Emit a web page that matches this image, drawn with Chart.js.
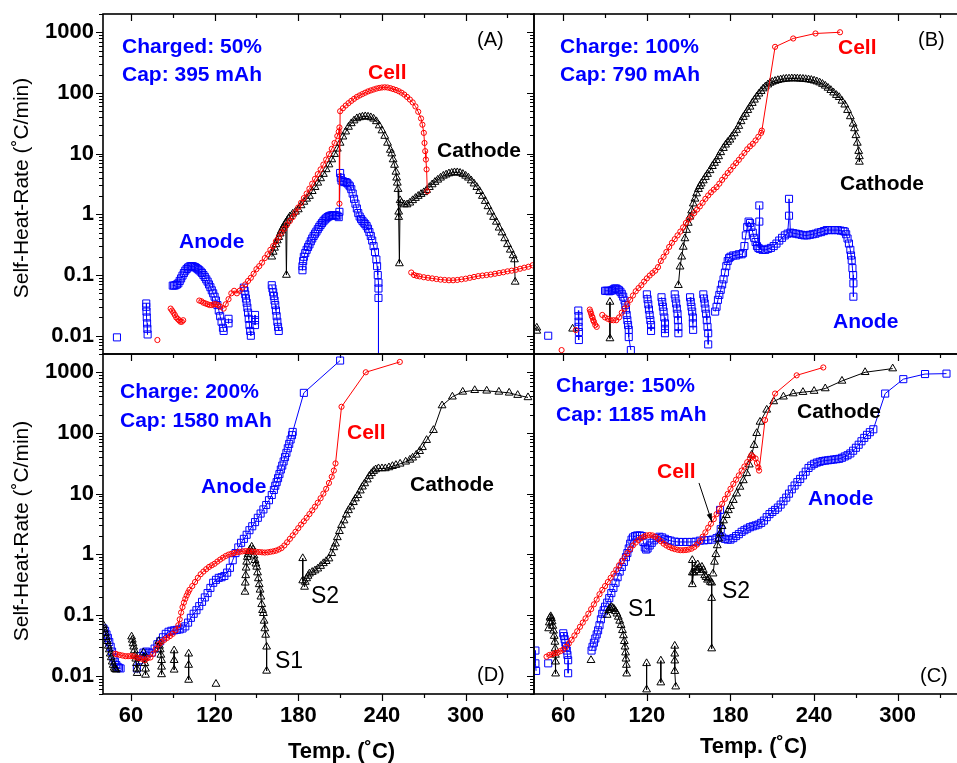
<!DOCTYPE html>
<html>
<head>
<meta charset="utf-8">
<script src="https://cdn.jsdelivr.net/npm/chart.js@4.4.0/dist/chart.umd.min.js"></script>
<style>
  html, body { margin: 0; padding: 0; background: #fff; }
  body { position: relative; width: 957px; height: 763px; overflow: hidden; font-family: "Liberation Sans", Arial, sans-serif; }
  canvas { position: absolute; left: 0; top: 0; }
  .t { position: absolute; white-space: nowrap; font-weight: bold; font-size: 21px; line-height: 21px; }
  .blue { color: #0000ff; }
  .red { color: #ff0000; }
  .blk { color: #000; }
  .plain { font-weight: normal; font-size: 20px; }
  .s { font-weight: normal; font-size: 23px; line-height: 23px; }
  .xt { font-size: 22px; line-height: 22px; }
  .yt { position: absolute; white-space: nowrap; font-size: 21px; transform: translate(-50%, -50%) rotate(-90deg); }
</style>
</head>
<body>
<canvas id="chartA" width="1000" height="763"></canvas>
<canvas id="chartB" width="1000" height="763"></canvas>
<canvas id="chartD" width="1000" height="763"></canvas>
<canvas id="chartC" width="1000" height="763"></canvas>

<div class="t blue" style="left:122px;top:35px">Charged: 50%</div>
<div class="t blue" style="left:122px;top:63px">Cap: 395 mAh</div>
<div class="t red" style="left:368px;top:61px">Cell</div>
<div class="t blk" style="left:437px;top:139px">Cathode</div>
<div class="t blue" style="left:179px;top:230px">Anode</div>
<div class="t plain" style="left:477px;top:29px">(A)</div>

<div class="t blue" style="left:560px;top:35px">Charge: 100%</div>
<div class="t blue" style="left:560px;top:63px">Cap: 790 mAh</div>
<div class="t red" style="left:838px;top:36px">Cell</div>
<div class="t blk" style="left:840px;top:172px">Cathode</div>
<div class="t blue" style="left:833px;top:310px">Anode</div>
<div class="t plain" style="left:918px;top:29px">(B)</div>

<div class="t blue" style="left:120px;top:380px">Charge: 200%</div>
<div class="t blue" style="left:120px;top:409px">Cap: 1580 mAh</div>
<div class="t blue" style="left:201px;top:475px">Anode</div>
<div class="t red" style="left:347px;top:421px">Cell</div>
<div class="t blk" style="left:410px;top:473px">Cathode</div>
<div class="t s" style="left:275px;top:649px">S1</div>
<div class="t s" style="left:311px;top:584px">S2</div>
<div class="t plain" style="left:477px;top:664px">(D)</div>

<div class="t blue" style="left:556px;top:374px">Charge: 150%</div>
<div class="t blue" style="left:556px;top:403px">Cap: 1185 mAh</div>
<div class="t blk" style="left:797px;top:400px">Cathode</div>
<div class="t red" style="left:657px;top:460px">Cell</div>
<div class="t blue" style="left:808px;top:487px">Anode</div>
<div class="t s" style="left:628px;top:597px">S1</div>
<div class="t s" style="left:722px;top:579px">S2</div>
<div class="t plain" style="left:920px;top:665px">(C)</div>

<div class="t xt" style="left:288px;top:740px">Temp. (˚C)</div>
<div class="t xt" style="left:700px;top:735px">Temp. (˚C)</div>
<div class="yt" style="left:21px;top:188px">Self-Heat-Rate (˚C/min)</div>
<div class="yt" style="left:21px;top:531px">Self-Heat-Rate (˚C/min)</div>

<script>
// axes
const xMajor = [60, 120, 180, 240, 300];
const xMinor = [90, 150, 210, 270, 330];
const yMajor = [0.01, 0.1, 1, 10, 100, 1000];

// (A) Charged 50%  - [temp, rate], null = break
const aCell = [[79, 0.0085], null,
  [88.5, 0.028], [89.5, 0.026], [90.5, 0.024], [91.5, 0.022], [92.5, 0.02], [93.5, 0.019], [94.5, 0.018], [95.5, 0.017], [96.5, 0.017], [97.5, 0.018], null,
  [109, 0.038], [110.5, 0.037], [112, 0.035], [113.5, 0.034], [115, 0.033], [116.5, 0.032], [118, 0.032], [119.5, 0.033], [121, 0.033], [122.5, 0.032], [124, 0.03], null,
  [126.5, 0.028], [128, 0.033], [130, 0.04], [132, 0.05], [134, 0.055], [136, 0.05], [138, 0.055], [140, 0.062], [142, 0.07], [144, 0.08], [146, 0.09], [148, 0.105], [150, 0.125],
  [152, 0.14], [154, 0.16], [156, 0.19], [158, 0.22], [160, 0.26], [162, 0.3], [164, 0.36], [166, 0.42], [168, 0.5], [170, 0.58], [172, 0.68], [174, 0.78], [176, 0.9], [178, 1.08],
  [180, 1.3], [182, 1.55], [184, 1.85], [186, 2.2], [188, 2.65], [190, 3.2], [192, 3.85], [194, 4.6], [196, 5.5], [198, 6.6], [200, 8], [202, 9.8], [204, 12], [206, 15], [208, 19.5],
  [209, 23], [209.5, 27], [209.5, 1.5], [210, 50], [212, 56], [214, 62], [216, 68], [218, 74], [220, 80], [222, 86], [224, 91], [226, 96], [228, 101], [230, 106], [232, 110],
  [234, 114], [236, 118], [238, 121], [240, 123], [242, 124], [244, 123], [246, 120], [248, 116], [250, 112], [252, 107], [254, 101], [256, 94], [258, 86], [260, 78], [262, 70],
  [264, 60], [266, 49], [268, 38], [269, 30], [270, 22], [270.5, 15], [271, 11], [271.5, 8], [272, 5.5], [272.5, 2.4], null,
  [261, 0.11], [263, 0.1], [265, 0.097], [267, 0.095], [270, 0.092], [273, 0.09], [276, 0.088], [279, 0.086], [282, 0.084], [285, 0.083], [288, 0.082], [291, 0.082], [294, 0.083],
  [297, 0.085], [300, 0.087], [303, 0.09], [306, 0.093], [309, 0.096], [312, 0.098], [315, 0.1], [318, 0.102], [321, 0.105], [324, 0.108], [327, 0.111], [330, 0.115], [333, 0.118],
  [336, 0.122], [339, 0.127], [342, 0.132], [345, 0.137], [348, 0.145]];

const aCathode = [[161, 0.2], [162, 0.24], [163, 0.28], [164, 0.32], [165, 0.37], [166, 0.42], [167, 0.48], [168, 0.54], [169, 0.6], [170, 0.66], [171, 0.72], [171.5, 0.1],
  [172, 0.78], [173, 0.85], [174, 0.92], [176, 1.02], [178, 1.1], [180, 1.2], [182, 1.4], [184, 1.6], [186, 1.8], [188, 2.0], [190, 2.4], [192, 2.8], [194, 3.3], [196, 3.9],
  [198, 4.6], [200, 5.5], [202, 6.6], [204, 8], [206, 9.8], [208, 12], [210, 15], [212, 19], [214, 23], [216, 27.5], [218, 31.5], [220, 35], [222, 38], [224, 39.5], [226, 40.5],
  [228, 41], [230, 40.5], [232, 39.5], [234, 37.5], [236, 34], [238, 29], [240, 24], [242, 19.5], [244, 15], [246, 11.5], [247, 10], [248, 8], [249, 6.5], [250, 5], [250.5, 4],
  [251, 3.3], [251.5, 2.6], [252, 1.1], [252, 0.9], [252.5, 0.155], [253, 1.7], [254, 1.55], [256, 1.45], [258, 1.45], [260, 1.55], [262, 1.7], [264, 1.85], [266, 2.0], [268, 2.15],
  [270, 2.3], [272, 2.5], [274, 2.8], [276, 3.1], [278, 3.4], [280, 3.7], [282, 4.0], [284, 4.3], [286, 4.5], [288, 4.7], [290, 4.8], [292, 4.9], [294, 4.9], [296, 4.8], [298, 4.6],
  [300, 4.3], [302, 4.0], [304, 3.6], [306, 3.2], [308, 2.8], [310, 2.4], [312, 2.0], [314, 1.65], [316, 1.35], [318, 1.1], [320, 0.9], [322, 0.75], [324, 0.6], [326, 0.5],
  [328, 0.4], [330, 0.32], [332, 0.26], [334, 0.21], [335, 0.18], [335.5, 0.077]];

const aAnode = [[50, 0.0094], null,
  [71, 0.034], [71, 0.03], [71.2, 0.025], [71.4, 0.02], [71.6, 0.016], [71.8, 0.013], [72, 0.0105], null,
  [90, 0.067], [91, 0.067], [92, 0.068], [93, 0.07], [94, 0.073], [95, 0.08], [96, 0.088], [97, 0.098], [98, 0.108], [99, 0.118], [100, 0.126], [101, 0.133], [102, 0.138],
  [103, 0.14], [104, 0.14], [105, 0.138], [106, 0.135], [107, 0.13], [108, 0.125], [109, 0.12], [110, 0.114], [111, 0.108], [112, 0.1], [113, 0.093], [114, 0.085], [115, 0.078],
  [116, 0.07], [117, 0.063], [118, 0.056], [119, 0.05], [120, 0.044], [121, 0.038], [122, 0.032], [123, 0.026], [124, 0.021], [125, 0.017], [126, 0.0135], [126.5, 0.012], null,
  [130, 0.019], [130, 0.016], null,
  [141, 0.062], [141.5, 0.055], [142, 0.048], [142.5, 0.041], [143, 0.035], [143.5, 0.029], [144, 0.024], [144.5, 0.019], [145, 0.015], [145.5, 0.012], [146, 0.01], null,
  [149, 0.022], [149, 0.018], [149, 0.015], null,
  [161, 0.068], [161.5, 0.06], [162, 0.052], [162.5, 0.045], [163, 0.038], [163.5, 0.032], [164, 0.026], [164.5, 0.021], [165, 0.017], [165.5, 0.014], [166, 0.012], null,
  [183, 0.14], [183, 0.12], [183.5, 0.17], [184, 0.2], [185, 0.23], [186, 0.26], [187, 0.29], [188, 0.32], [189, 0.36], [190, 0.4], [191, 0.44], [192, 0.48], [193, 0.52],
  [194, 0.57], [195, 0.62], [196, 0.67], [197, 0.72], [198, 0.77], [199, 0.82], [200, 0.86], [201, 0.9], [202, 0.93], [203, 0.95], [204, 0.96], [205, 0.97], [206, 0.97],
  [207, 0.96], [208, 0.95], [209, 0.9], [209.5, 1.1], [210, 4.8], [210.5, 4], [211, 3.6], [212, 3.5], [213, 3.4], [214, 3.4], [215, 3.3], [216, 3.1], [217, 2.9], [218, 2.6],
  [219, 2.2], [220, 1.8], [221, 1.5], [222, 1.25], [223, 1.05], [224, 0.92], [225, 0.84], [226, 0.78], [227, 0.73], [228, 0.69], [229, 0.64], [230, 0.58], [231, 0.51],
  [232, 0.44], [233, 0.37], [234, 0.3], [235, 0.24], [236, 0.18], [236.5, 0.14], [237, 0.1], [237.5, 0.075], [237.5, 0.06], [237.5, 0.042], [237.5, 0.001]];

// (B) Charge 100%
const bCell = [[58.8, 0.0058], null, [69, 0.0124], null,
  [79, 0.027], [79.5, 0.025], [80, 0.023], [80.5, 0.021], [81, 0.02], [81.5, 0.018], [82, 0.017], [83, 0.015], [84, 0.014], null,
  [88, 0.022], [90, 0.02], [92, 0.019], [94, 0.018], [96, 0.018], [98, 0.018], [100, 0.02], [102, 0.024], [104, 0.028], [106, 0.033], [108, 0.039], [110, 0.046], [112, 0.054],
  [114, 0.061], [116, 0.068], [118, 0.078], [120, 0.088], [122, 0.098], [124, 0.108], [126, 0.118], [128, 0.135], [130, 0.17], [132, 0.2], [134, 0.24], [136, 0.29], [138, 0.34],
  [140, 0.39], [142, 0.45], [144, 0.52], [146, 0.61], [148, 0.72], [150, 0.82], [152, 0.92], [154, 1.05], [156, 1.2], [158, 1.35], [160, 1.55], [162, 1.8], [164, 2.05],
  [166, 2.3], [168, 2.55], [170, 2.8], [172, 3.2], [174, 3.7], [176, 4.2], [178, 4.8], [180, 5.4], [182, 6.2], [184, 7.0], [186, 7.9], [188, 9], [190, 10.3], [192, 11.8],
  [194, 13.2], [196, 14.5], [198, 16.5], [200, 19], [202, 22], [202.5, 24], [212, 575], [225, 790], [241, 955], [258.6, 1000]];

const bCathode = [[41, 0.012], [41, 0.0135], null, [66.7, 0.013], null, [93.5, 0.036], [93.5, 0.009], null,
  [142.6, 0.068], [143.8, 0.137], [145, 0.2], [146.1, 0.29], [147.3, 0.4], [148.5, 0.55], [149.7, 0.72], [150.9, 0.91], [152.1, 1.15], [153.3, 1.5], [154.5, 1.8], [155.7, 2.2],
  [157, 2.6], [158, 2.9], [159, 3.2], [160.5, 3.6], [162, 4.1], [163.5, 4.6], [165.3, 5.3], [167, 6.2], [168.5, 7], [170.1, 7.8], [171.5, 9], [173, 10.5], [174.9, 12.3],
  [176.5, 14], [178, 15.5], [179.6, 16.9], [181, 19], [182.7, 21.5], [184.4, 24.5], [186, 28.5], [187.6, 34], [189.2, 40], [190.8, 45], [192.4, 52], [194, 59], [195.6, 68],
  [197.2, 77], [198.8, 87], [200.4, 97], [202, 107], [203.5, 118], [205, 127], [206.8, 137], [208.4, 146], [210, 152], [212, 157], [214, 162], [216, 166], [218, 169],
  [220, 171], [222, 172], [224, 173], [226, 173], [228, 172], [230, 171], [232, 170], [234, 168], [236, 166], [238, 163], [240, 159], [242, 154], [244, 148], [246, 140],
  [248, 131], [250, 121], [252, 111], [254, 101], [256, 92], [258, 85], [260, 74], [262, 64], [264, 52], [266, 41], [268, 31], [269, 26], [270, 20], [271, 15], [272, 11],
  [272.5, 9], [272.5, 7.3]];

const bAnode = [[49.2, 0.01], null,
  [70.8, 0.026], [71, 0.021], [71, 0.017], [71, 0.014], [71.2, 0.0115], [71.2, 0.0085], null,
  [90, 0.055], [91, 0.055], [92, 0.055], [93, 0.054], [94, 0.055], [95, 0.056], [96, 0.058], [97, 0.06], [98, 0.06], [99, 0.058], [100, 0.056], [101, 0.053], [102, 0.049],
  [103, 0.044], [104, 0.038], [104.5, 0.032], [105, 0.027], [105.5, 0.022], [106, 0.018], [106.5, 0.015], [107, 0.0125], [107, 0.0095], [108.5, 0.0058], null,
  [120, 0.048], [120.5, 0.04], [121, 0.033], [121.5, 0.027], [122, 0.022], [122.5, 0.018], [123, 0.015], [123, 0.012], null,
  [130.5, 0.043], [131, 0.036], [131.5, 0.03], [132, 0.025], [132.5, 0.02], [133, 0.016], [133, 0.013], [133, 0.011], null,
  [140, 0.048], [140.5, 0.041], [141, 0.034], [141.5, 0.028], [142, 0.023], [142.3, 0.018], [142.6, 0.014], [142.6, 0.011], null,
  [151, 0.043], [151.5, 0.036], [152, 0.03], [152.5, 0.025], [153, 0.02], [153, 0.016], [153.2, 0.0125], null,
  [160.5, 0.048], [161, 0.041], [161.5, 0.034], [162, 0.028], [162.5, 0.023], [163, 0.018], [163.5, 0.014], [164, 0.011], [164, 0.0072], null,
  [169, 0.025], [170, 0.03], [171, 0.039], [172, 0.047], [173, 0.057], [174, 0.07], [175, 0.085], [176, 0.11], [177, 0.14], [178, 0.17], [179, 0.19], [180, 0.2], [182, 0.21],
  [184, 0.21], [186, 0.22], [188, 0.22], [189, 0.23], [190, 0.3], [191, 0.45], [192, 0.62], [193, 0.76], [194, 0.72], [195, 0.62], [196, 0.5], [197, 0.41], [198, 0.35],
  [199, 0.3], [200, 0.28], [200.7, 0.76], [200.7, 1.4], [201, 0.27], [203, 0.26], [205, 0.26], [207, 0.27], [209, 0.28], [211, 0.3], [213, 0.33], [215, 0.37], [217, 0.41],
  [219, 0.45], [221, 0.48], [222, 0.95], [222, 1.8], [223, 0.5], [225, 0.49], [227, 0.48], [229, 0.47], [231, 0.46], [233, 0.45], [235, 0.45], [237, 0.46], [239, 0.47],
  [241, 0.48], [243, 0.5], [245, 0.51], [247, 0.53], [249, 0.55], [251, 0.55], [253, 0.55], [255, 0.55], [257, 0.55], [259, 0.54], [261, 0.53], [262, 0.52], [263, 0.47],
  [264, 0.4], [265, 0.33], [266, 0.26], [266.5, 0.21], [267, 0.175], [267.5, 0.13], [268, 0.1], [268.2, 0.073], [268.2, 0.044]];

// (C) Charge 150%
const cCell = [[48, 0.0206], [50, 0.022], [52, 0.0225], [54, 0.0235], [56, 0.024], [58, 0.0255], [60, 0.027], [62, 0.03], [64, 0.034], [66, 0.039], [68, 0.046], [70, 0.054],
  [72, 0.064], [74, 0.075], [76, 0.088], [78, 0.105], [80, 0.125], [82, 0.15], [84, 0.18], [86, 0.22], [88, 0.26], [90, 0.3], [92, 0.35], [94, 0.41], [96, 0.48], [98, 0.56],
  [100, 0.66], [102, 0.77], [104, 0.9], [106, 1.05], [108, 1.22], [110, 1.4], [112, 1.56], [114, 1.72], [116, 1.86], [118, 1.97], [120, 2.05], [122, 2.08], [124, 2.05],
  [126, 1.95], [128, 1.8], [130, 1.65], [132, 1.5], [134, 1.4], [136, 1.32], [138, 1.26], [140, 1.22], [142, 1.19], [144, 1.17], [146, 1.17], [148, 1.18], [150, 1.2],
  [152, 1.24], [154, 1.32], [156, 1.45], [158, 1.65], [160, 1.95], [162, 2.3], [164, 2.75], [166, 3.2], [168, 3.8], [170, 4.6], [172, 5.6], [174, 6.8], [176, 8.2], [178, 9.9],
  [180, 12], [182, 14.5], [184, 17], [186, 20], [188, 24], [190, 28], [192, 33], [194, 38], [195, 43], [196, 41], [198, 38], [199, 32], [200, 27], [200.5, 24],
  [204.8, 163], [212, 446], [227.5, 890], [246.6, 1200]];

const cCathode = [[49.5, 0.06], [50, 0.075], [50.5, 0.09], [51, 0.095], [51.5, 0.088], [52, 0.078], [52.5, 0.066], [53, 0.055], [53.5, 0.045], [54, 0.036], [54.2, 0.028],
  [54.4, 0.022], [54.5, 0.017], [54.5, 0.0108], null,
  [79.9, 0.018], null,
  [91.5, 0.1], [92.5, 0.12], [93.5, 0.13], [94.5, 0.135], [95.5, 0.13], [96.5, 0.125], [97.5, 0.115], [98.5, 0.105], [99.5, 0.093], [100.5, 0.08], [101.5, 0.068], [102.5, 0.056],
  [103.2, 0.046], [103.8, 0.037], [104.3, 0.03], [104.7, 0.024], [105, 0.019], [105.3, 0.015], [105.5, 0.0108], null,
  [119.8, 0.016], [119.8, 0.0059], null,
  [130, 0.0177], [130, 0.0077], null,
  [140, 0.031], [140, 0.023], [140, 0.0177], [140, 0.0119], [140.7, 0.0066], null,
  [152.6, 0.8], [152.6, 0.5], [152.6, 0.32], [153.5, 0.5], [154.5, 0.6], [155.5, 0.55], [156.5, 0.68], [157.5, 0.6], [158.5, 0.5], [159.5, 0.62], [160.5, 0.55], [161.5, 0.45],
  [162.5, 0.42], [163.5, 0.38], [164.5, 0.4], [165.5, 0.35], [166.5, 0.34], [166.5, 0.19], [166.5, 0.028], null,
  [167.5, 0.48], [168.5, 0.75], [169.5, 1.0], [170.5, 1.4], [171.5, 1.8], [172.5, 2.2], [174, 2.9], [175, 3.6], [177, 4.4], [178.5, 5.3], [180, 6.2], [182, 7.8], [184.4, 10],
  [186.8, 12.9], [189.2, 16.5], [191.6, 21.6], [193.5, 30], [195.2, 43.5], [196.9, 63], [198.8, 99], [201.2, 152], [206, 240], [211, 330], [218, 395], [225, 446], [232, 470],
  [240, 490], [248, 540], [260, 720], [276.6, 1000], [296.4, 1150]];

const cAnode = [[40, 0.026], [40, 0.016], [40.5, 0.012], null,
  [49.2, 0.016], null,
  [60, 0.05], [60.5, 0.045], [61, 0.04], [61.5, 0.035], [62, 0.03], [62.5, 0.026], [63, 0.022], [63.5, 0.018], [63.5, 0.011], null,
  [80.3, 0.026], [81, 0.03], [82, 0.035], [83, 0.041], [84, 0.048], [85, 0.056], [86, 0.068], [87, 0.085], [88, 0.105], [89, 0.12], [90, 0.137], [91.5, 0.16], [93, 0.19],
  [94.5, 0.23], [96, 0.28], [97.5, 0.34], [99, 0.42], [100.5, 0.52], [102, 0.62], [103.5, 0.75], [105, 0.9], [106, 1.05], [107, 1.25], [108, 1.5], [109, 1.75], [110, 1.9],
  [111.5, 2.0], [113, 2.05], [115, 2.05], [116.5, 2.0], [117.5, 1.6], [118.5, 1.3], [119.5, 1.2], [120.5, 1.25], [122, 1.4], [123.5, 1.55], [125, 1.7], [127, 1.85],
  [129, 1.95], [131, 1.9], [133, 1.8], [135, 1.72], [137, 1.68], [140, 1.62], [143, 1.6], [146, 1.6], [149, 1.6], [152, 1.6], [155, 1.62], [158, 1.68], [161, 1.7],
  [164, 1.72], [167, 1.75], [170, 1.85], [172, 1.95], [172.5, 5.4], [173, 2.6], [174, 1.9], [176, 1.8], [178, 1.75], [180, 1.75], [182, 1.85], [184, 2.0], [186, 2.15],
  [188, 2.35], [190, 2.5], [192, 2.65], [194, 2.8], [196, 2.9], [198, 3.0], [200, 3.1], [202, 3.3], [204, 3.6], [206, 4.1], [208, 4.6], [210, 5.0], [212, 5.4], [214, 5.9],
  [216, 6.6], [218, 7.5], [220, 8.6], [222, 10], [224, 11.8], [226, 13.6], [228, 15.5], [230, 17.5], [232, 20], [234, 23], [236, 26.5], [238, 29], [240, 31], [242, 32.5],
  [244, 33.5], [246, 34.5], [248, 35], [250, 35.5], [252, 36], [254, 36.5], [256, 37], [258, 37.5], [260, 39], [262, 41], [264, 43], [266, 46], [268, 51], [270, 57],
  [272, 64], [274, 73], [276, 83], [278, 93], [280, 103], [282.5, 115], [291, 446], [304, 770], [319.6, 935], [335, 950]];

const cArrow = [[157.4, 15], [166.7, 3.4]];

// (D) Charge 200%
const dCell = [[48.9, 0.023], [50, 0.0225], [52, 0.022], [54, 0.0215], [56, 0.021], [58, 0.021], [60, 0.021], [62, 0.021], [64, 0.02], [66, 0.0195], [68, 0.019], [70, 0.018],
  [72, 0.0195], [74, 0.02], [76, 0.023], [78, 0.028], [80, 0.033], [82, 0.036], [84, 0.039], [86, 0.042], [88, 0.045], [90, 0.049], [92, 0.056], [94, 0.068], [95, 0.085],
  [96, 0.11], [97, 0.135], [98, 0.16], [99, 0.185], [100, 0.21], [101, 0.235], [102, 0.26], [104, 0.3], [106, 0.35], [108, 0.41], [110, 0.47], [112, 0.52], [114, 0.57],
  [116, 0.62], [118, 0.66], [120, 0.7], [122, 0.76], [124, 0.82], [126, 0.88], [128, 0.94], [130, 0.99], [132, 1.02], [134, 1.05], [136, 1.08], [138, 1.1], [140, 1.12],
  [142, 1.13], [144, 1.13], [146, 1.12], [148, 1.1], [150, 1.1], [152, 1.09], [154, 1.08], [156, 1.07], [158, 1.08], [160, 1.1], [162, 1.12], [164, 1.15], [166, 1.2],
  [168, 1.27], [170, 1.4], [172, 1.58], [174, 1.8], [176, 2.05], [178, 2.35], [180, 2.7], [182, 3.1], [184, 3.5], [186, 4.0], [188, 4.6], [190, 5.3], [192, 6.1], [194, 7.1],
  [196, 8.4], [198, 10], [200, 12], [202, 15], [204, 19], [205.5, 24], [206.7, 31.5], [211, 270], [228.4, 1000], [252.8, 1480]];

const dCathode = [[40.3, 0.068], [41, 0.058], [41.7, 0.05], [42.4, 0.043], [43.1, 0.037], [43.8, 0.031], [44.5, 0.027], [45.2, 0.023], [45.9, 0.02], [46.6, 0.017],
  [47.3, 0.015], [48, 0.0135], [48.7, 0.0128], [49.5, 0.0125], null,
  [60.5, 0.044], [61, 0.039], [61.5, 0.034], [62, 0.03], [62.5, 0.026], [63, 0.022], [63.5, 0.019], [64, 0.016], [64.3, 0.013], [64.5, 0.011], null,
  [69, 0.024], [69.5, 0.02], [70, 0.016], [70.5, 0.013], [70.5, 0.0103], null,
  [80, 0.037], [80.5, 0.031], [81, 0.027], [81.5, 0.022], [82, 0.018], [82, 0.014], [82, 0.0105], null,
  [91, 0.026], [91, 0.018], [91, 0.0125], null,
  [101.4, 0.023], [101.4, 0.015], [101.4, 0.0085], null,
  [121, 0.0073], null,
  [141.8, 0.24], [142, 0.34], [142.3, 0.45], [142.6, 0.6], [143, 0.75], [143.5, 0.9], [144, 1.0], [144.7, 1.1], [145.5, 1.2], [146.6, 1.33], [147.5, 1.2], [148.3, 0.95],
  [149, 0.8], [149.6, 0.7], [150.2, 0.62], [150.8, 0.5], [151.4, 0.4], [152, 0.32], [152.6, 0.26], [153.2, 0.2], [153.8, 0.15], [154.4, 0.12], [155, 0.107], [155.5, 0.08],
  [156, 0.06], [156.6, 0.047], [157.3, 0.03], [157.3, 0.012], null,
  [183.2, 0.86], [183.2, 0.37], [184.5, 0.29], [185, 0.35], [186, 0.4], [187, 0.44], [188, 0.48], [190, 0.51], [192, 0.54], [194, 0.58], [196, 0.64], [198, 0.71], [200, 0.77],
  [202, 0.85], [204, 1.04], [205.5, 1.3], [206.7, 1.5], [208, 1.9], [209.5, 2.4], [211, 3.0], [212.8, 3.6], [214.5, 4.5], [216, 5.3], [217.7, 6.1], [219.5, 7.2], [221, 8.3],
  [222.7, 9.4], [224.5, 11.2], [226, 13], [227.6, 14.7], [229.5, 17], [231, 19.5], [232.5, 21.6], [234, 23.5], [235.5, 25], [237.5, 26], [240, 26], [242.4, 26], [245, 27],
  [247.5, 28.3], [250, 29.5], [253, 31], [257, 33.5], [260, 36], [262, 39], [264.6, 43.5], [267, 50], [269, 58], [272, 76], [276.9, 111], [283.1, 283], [290.5, 395],
  [297.9, 475], [306.5, 505], [315.1, 495], [323.8, 475], [331.2, 458], [337.3, 420], [344.7, 385]];

const dAnode = [[40.3, 0.06], [41.5, 0.055], [42.5, 0.048], [43.5, 0.042], [44.5, 0.036], [45.5, 0.03], [46.5, 0.025], [47.5, 0.02], [48.5, 0.017], [49.5, 0.015],
  [50.5, 0.014], [51.5, 0.0135], [52.6, 0.0132], null,
  [64.3, 0.0132], [66, 0.018], [67, 0.021], [69, 0.024], [71, 0.025], [73, 0.024], [75, 0.024], [77, 0.028], [79, 0.033], [81, 0.037], [83, 0.043], [85, 0.049], [87, 0.053],
  [89, 0.055], [91, 0.056], [93, 0.057], [95, 0.058], [97, 0.06], [99, 0.065], [101, 0.075], [103, 0.09], [105, 0.105], [107, 0.12], [109, 0.14], [111, 0.165], [113, 0.195],
  [115, 0.23], [117, 0.28], [119, 0.34], [121, 0.38], [123, 0.41], [125, 0.42], [127, 0.44], [129, 0.5], [131, 0.6], [133, 0.8], [135, 1.05], [137, 1.3], [139, 1.55],
  [141, 1.8], [143, 2.1], [145, 2.5], [147, 2.9], [149, 3.4], [151, 4.0], [153, 4.7], [155, 5.5], [157, 6.5], [159, 7.8], [161, 9.5], [162.5, 11.5], [163.5, 13.5],
  [164.5, 15.5], [165.5, 18], [166.5, 21], [167.5, 25], [168.5, 29], [169.5, 34], [170.5, 40], [171.5, 47], [172.5, 56], [173.5, 66], [174.5, 78], [175.5, 92], [176, 104],
  [184, 458], [210, 1560]];

const toPts = arr => arr.map(p => p ? { x: p[0], y: p[1] } : { x: null, y: null });

function cellSet(arr) {
  return { data: toPts(arr), showLine: true, order: 1, borderColor: '#ff0000', borderWidth: 1,
    pointStyle: 'circle', pointRadius: 2.6, pointBorderWidth: 1, pointBorderColor: '#ff0000', pointBackgroundColor: 'rgba(255,255,255,0)' };
}
function cathodeSet(arr) {
  return { data: toPts(arr), showLine: true, order: 2, borderColor: '#000', borderWidth: 1,
    pointStyle: 'triangle', pointRadius: 4.5, pointBorderWidth: 1, pointBorderColor: '#000', pointBackgroundColor: 'rgba(255,255,255,0)' };
}
function anodeSet(arr) {
  return { data: toPts(arr), showLine: true, order: 3, borderColor: '#0000ff', borderWidth: 1,
    pointStyle: 'rect', pointRadius: 5, pointBorderWidth: 1, pointBorderColor: '#0000ff', pointBackgroundColor: 'rgba(255,255,255,0)' };
}

// fixed-size axes, so the chart areas line up exactly
const Y_W = 100, X_H = 60;
function fixFit(s) {
  if (s.isHorizontal()) s.height = X_H; else s.width = Y_W;
  s.paddingTop = 0; s.paddingBottom = 0; s.paddingLeft = 0; s.paddingRight = 0;
}

const frame = {
  id: 'frame',
  afterDatasetsDraw(chart, args, o) {
    const { ctx, chartArea: a, scales: { x, y } } = chart;
    ctx.save();
    ctx.strokeStyle = '#000';
    ctx.lineWidth = 1.6;
    ctx.strokeRect(a.left, a.top, a.right - a.left, a.bottom - a.top);
    ctx.lineWidth = 1.2;
    ctx.beginPath();
    const xt = (v, len) => {
      const p = Math.round(x.getPixelForValue(v)) + 0.5;
      ctx.moveTo(p, a.bottom); ctx.lineTo(p, a.bottom + len);
      if (o.top) { ctx.moveTo(p, a.top); ctx.lineTo(p, a.top + len); }
    };
    xMajor.forEach(v => xt(v, 7));
    xMinor.forEach(v => xt(v, 4));
    for (let e = -3; e <= 3; e++) {
      for (let m = 1; m <= 9; m++) {
        const v = m * Math.pow(10, e);
        if (v < 0.005 || v > 2000) continue;
        const p = Math.round(y.getPixelForValue(v)) + 0.5;
        ctx.moveTo(a.left, p); ctx.lineTo(a.left - (m === 1 ? 7 : 4), p);
      }
    }
    ctx.stroke();
    if (o.arrow) {
      const [p0, p1] = o.arrow;
      const x0 = x.getPixelForValue(p0[0]), y0 = y.getPixelForValue(p0[1]);
      const x1 = x.getPixelForValue(p1[0]), y1 = y.getPixelForValue(p1[1]);
      const ang = Math.atan2(y1 - y0, x1 - x0);
      ctx.lineWidth = 1;
      ctx.beginPath(); ctx.moveTo(x0, y0); ctx.lineTo(x1, y1); ctx.stroke();
      ctx.fillStyle = '#000';
      ctx.beginPath();
      ctx.moveTo(x1, y1);
      ctx.lineTo(x1 - 9 * Math.cos(ang - 0.3), y1 - 9 * Math.sin(ang - 0.3));
      ctx.lineTo(x1 - 9 * Math.cos(ang + 0.3), y1 - 9 * Math.sin(ang + 0.3));
      ctx.closePath(); ctx.fill();
    }
    ctx.restore();
  }
};

const tickFont = { family: '"Liberation Sans", Arial, sans-serif', size: 22, weight: 'bold' };

function panel(id, datasets, p) {
  return new Chart(document.getElementById(id), {
    type: 'scatter',
    data: { datasets },
    options: {
      responsive: false,
      animation: false,
      events: [],
      layout: { padding: p.pad },
      plugins: { legend: { display: false }, tooltip: { enabled: false }, frame: { top: p.top, arrow: p.arrow } },
      scales: {
        x: {
          type: 'linear', min: p.xMin, max: 349,
          afterBuildTicks: s => { s.ticks = xMajor.map(v => ({ value: v })); },
          afterFit: fixFit,
          grid: { display: false, drawTicks: false },
          border: { display: false },
          ticks: { display: p.xLabels, autoSkip: false, maxRotation: 0, color: '#000', font: tickFont, padding: 9, callback: v => String(v) }
        },
        y: {
          type: 'logarithmic', min: 0.005, max: 2000,
          afterBuildTicks: s => { s.ticks = yMajor.map(v => ({ value: v })); },
          afterFit: fixFit,
          grid: { display: false, drawTicks: false },
          border: { display: false },
          ticks: { display: p.yLabels, autoSkip: false, color: '#000', font: tickFont, padding: 9, callback: v => String(v) }
        }
      }
    },
    plugins: [frame]
  });
}

document.addEventListener('DOMContentLoaded', () => {
  panel('chartA', [cellSet(aCell), cathodeSet(aCathode), anodeSet(aAnode)],
    { pad: { left: 103 - Y_W, top: 14, right: 466, bottom: 409 - X_H }, xMin: 40, top: true, xLabels: false, yLabels: true });
  panel('chartB', [cellSet(bCell), cathodeSet(bCathode), anodeSet(bAnode)],
    { pad: { left: 534 - Y_W, top: 14, right: 34, bottom: 409 - X_H }, xMin: 39, top: true, xLabels: false, yLabels: false });
  panel('chartD', [cellSet(dCell), cathodeSet(dCathode), anodeSet(dAnode)],
    { pad: { left: 103 - Y_W, top: 354, right: 466, bottom: 69 - X_H }, xMin: 40, top: false, xLabels: true, yLabels: true });
  panel('chartC', [cellSet(cCell), cathodeSet(cCathode), anodeSet(cAnode)],
    { pad: { left: 534 - Y_W, top: 354, right: 34, bottom: 69 - X_H }, xMin: 39, top: false, xLabels: true, yLabels: false, arrow: cArrow });
});
</script>
</body>
</html>
